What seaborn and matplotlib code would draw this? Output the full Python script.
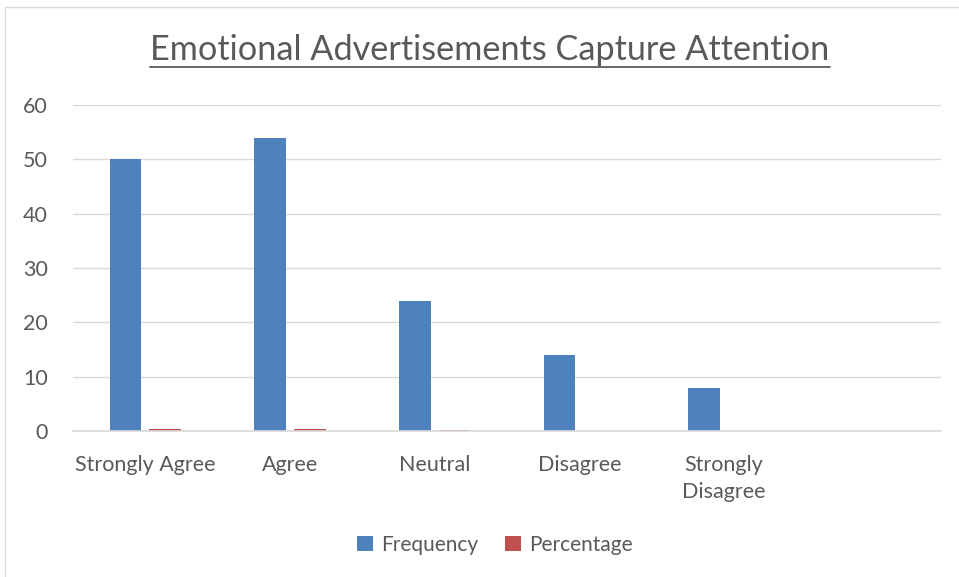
import matplotlib
matplotlib.use("Agg")
import matplotlib.pyplot as plt
import seaborn as sns
import pandas as pd
from matplotlib.patches import Rectangle, Patch
from matplotlib.lines import Line2D

categories = ["Strongly Agree", "Agree", "Neutral", "Disagree", "Strongly\nDisagree"]
frequency = [50, 54, 24, 14, 8]
percentage = [0.33, 0.36, 0.16, 0.09, 0.05]
series_names = ["Frequency", "Percentage"]
colors = ["#4F81BD", "#C0504D"]
yticks = [0, 10, 20, 30, 40, 50, 60]

sns.set_theme(style="white")
plt.rcParams['font.family'] = ['Lato', 'DejaVu Sans']
txt = "#595959"

df = pd.DataFrame({
    "Category": categories * 2,
    "Value": frequency + percentage,
    "Series": [series_names[0]] * len(categories) + [series_names[1]] * len(categories),
})

fig = plt.figure(figsize=(9.59, 5.77), dpi=100)
ax = fig.add_axes([73/959, 1-431/577, (941-73)/959, (431-105)/577])

sns.barplot(data=df, x="Category", y="Value", hue="Series", order=categories,
            hue_order=series_names, palette=colors, width=0.55, gap=0.2,
            saturation=1, ax=ax, legend=False, linewidth=0, edgecolor="none")

ax.set_xlim(-0.5, 5.5)
ax.set_ylim(0, 60)
ax.set_yticks(yticks)
ax.set_yticklabels([str(t) for t in yticks])
ax.yaxis.grid(True, color="#D9D9D9", linewidth=1)
ax.set_axisbelow(True)
for s in ["top", "right", "left"]:
    ax.spines[s].set_visible(False)
ax.spines["bottom"].set_color("#D9D9D9")
ax.spines["bottom"].set_linewidth(1.2)
ax.set_xlabel("")
ax.set_ylabel("")
ax.tick_params(axis="both", length=0, colors=txt, labelsize=15.5)
ax.tick_params(axis="x", pad=17)
ax.tick_params(axis="y", pad=18)
for lab in ax.get_xticklabels():
    lab.set_linespacing(1.45)

title = fig.text(490/959, 1-50/577, "Emotional Advertisements Capture Attention",
                 ha="center", va="center", fontsize=24.7, color=txt)
fig.canvas.draw()
bb = title.get_window_extent()
yline = bb.y0 - 1
fig.add_artist(Line2D([bb.x0/959, bb.x1/959], [yline/577, yline/577],
                      transform=fig.transFigure, color=txt, linewidth=1.3))

handles = [Patch(facecolor=c, edgecolor="none") for c in colors]
fig.legend(handles, series_names, loc="center", bbox_to_anchor=(495/959, 1-545/577),
           ncol=2, frameon=False, fontsize=15, labelcolor=txt,
           handlelength=0.75, handleheight=0.75, handletextpad=0.4, columnspacing=1.3)

fig.add_artist(Rectangle((5/959, -0.01), 1.0, 1-7/577 + 0.01, transform=fig.transFigure,
                         fill=False, edgecolor="#D9D9D9", linewidth=1))

fig.savefig("out.png", dpi=100)
